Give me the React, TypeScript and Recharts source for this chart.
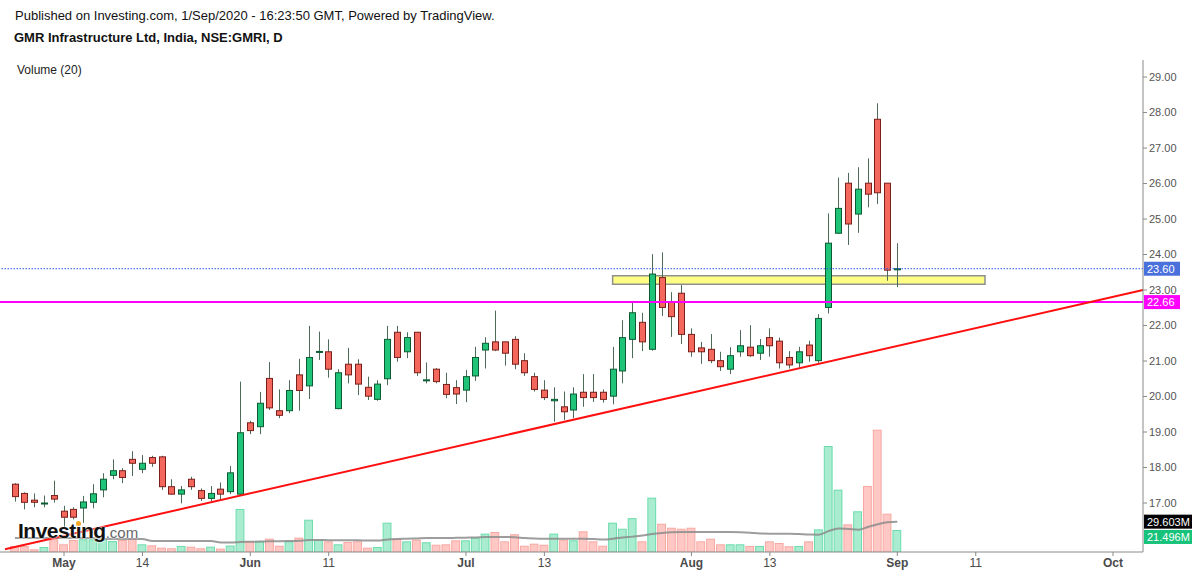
import React from 'react';
import { ComposedChart, Bar, Line, XAxis, YAxis, ReferenceLine, ReferenceArea } from 'recharts';

// daily candles, Apr 24 -> Sep 1 2020 (trading-day index)
const opens = [
  17.53, 17.27, 17.08, 16.99, 17.21, 16.77, 16.82, 16.86, 17.02, 17.37,
  17.78, 17.91, 18.23, 17.95, 18.28, 18.30, 17.46, 17.25, 17.67, 17.35,
  17.13, 17.39, 17.32, 17.25, 19.26, 19.15, 20.51, 19.60, 19.60, 20.61,
  20.30, 21.25, 21.26, 19.66, 20.91, 20.91, 20.26, 19.92, 20.50, 21.81,
  21.26, 21.81, 20.45, 20.77, 20.34, 20.25, 20.18, 20.58, 21.31, 21.54,
  21.54, 21.61, 21.01, 20.56, 20.18, 19.88, 19.71, 19.62, 20.12, 20.12,
  20.12, 20.01, 20.72, 21.61, 22.09, 21.33, 23.35, 22.65, 22.91, 21.75,
  21.37, 21.33, 21.01, 20.77, 21.26, 21.39, 21.22, 21.66, 21.56, 21.10,
  20.95, 21.45, 21.01, 22.51, 24.60, 26.01, 25.14, 26.01, 27.81, 26.01,
  23.57,
];
const highs = [
  17.56, 17.30, 17.27, 17.21, 17.63, 16.92, 16.88, 17.20, 17.53, 17.84,
  18.23, 17.98, 18.46, 18.35, 18.33, 18.33, 17.67, 17.48, 17.74, 17.41,
  17.48, 17.58, 18.04, 20.42, 19.32, 20.13, 20.97, 20.20, 20.46, 21.06,
  21.99, 21.83, 21.61, 20.77, 21.37, 21.05, 20.56, 20.46, 21.99, 21.99,
  21.81, 21.81, 20.96, 20.80, 20.67, 20.46, 20.75, 21.40, 21.67, 22.42,
  21.54, 21.70, 21.22, 20.67, 20.46, 20.26, 20.14, 20.26, 20.63, 20.63,
  20.20, 21.40, 22.15, 22.67, 22.36, 24.01, 24.06, 22.94, 23.14, 21.92,
  21.54, 21.76, 21.26, 21.39, 21.87, 22.01, 21.62, 21.92, 21.66, 21.28,
  21.40, 21.57, 22.32, 25.16, 26.17, 26.30, 26.46, 26.71, 28.26, 26.01,
  24.32,
];
const lows = [
  17.04, 16.82, 16.88, 16.88, 17.01, 16.29, 16.54, 16.44, 16.85, 17.16,
  17.67, 17.56, 17.76, 17.84, 18.02, 17.37, 17.23, 16.99, 17.37, 17.06,
  17.04, 17.08, 17.25, 17.22, 18.94, 18.94, 19.62, 19.39, 19.53, 19.60,
  19.93, 21.03, 20.53, 19.64, 20.37, 20.04, 19.90, 19.88, 20.32, 20.98,
  21.08, 20.58, 20.37, 20.37, 19.95, 19.79, 19.84, 20.44, 20.79, 21.28,
  20.87, 20.77, 20.58, 20.14, 19.90, 19.29, 19.34, 19.39, 19.71, 19.85,
  19.83, 19.78, 20.37, 21.08, 21.28, 21.29, 22.27, 21.68, 21.48, 21.12,
  20.92, 20.94, 20.72, 20.63, 21.12, 21.12, 21.03, 21.12, 20.79, 20.79,
  20.81, 20.98, 20.95, 22.34, 24.58, 24.27, 24.61, 25.33, 25.42, 23.26,
  23.08,
];
const closes = [
  17.18, 17.02, 17.02, 17.00, 17.11, 16.60, 16.60, 17.03, 17.26, 17.67,
  17.91, 17.72, 18.12, 18.12, 18.12, 17.46, 17.25, 17.37, 17.46, 17.13,
  17.27, 17.25, 17.85, 18.98, 19.04, 19.81, 19.68, 19.47, 20.17, 20.17,
  21.10, 21.27, 20.77, 20.67, 20.61, 20.35, 20.01, 20.35, 21.61, 21.10,
  21.66, 20.67, 20.47, 20.42, 20.06, 20.07, 20.56, 21.10, 21.50, 21.31,
  21.22, 20.91, 20.67, 20.20, 19.97, 19.92, 19.57, 20.07, 19.97, 19.97,
  19.92, 20.77, 21.66, 22.36, 21.54, 23.45, 22.51, 22.25, 21.75, 21.26,
  21.26, 21.01, 20.84, 21.15, 21.43, 21.15, 21.43, 21.43, 20.95, 20.89,
  21.26, 21.15, 22.20, 24.32, 25.30, 24.86, 25.84, 25.70, 25.74, 23.56,
  23.60,
];
// volume in millions of shares
const volumes = [
  5.9, 5.9, 2.6, 4.9, 12.4, 7.5, 11.7, 12.4, 12.4, 12.4,
  10.7, 11.7, 13.4, 7.5, 6.5, 4.2, 3.6, 5.9, 5.2, 3.6,
  5.2, 3.3, 6.3, 42.0, 10.4, 10.4, 13.0, 6.1, 10.4, 14.0,
  31.5, 12.0, 10.4, 7.5, 9.8, 10.4, 4.2, 4.9, 28.6, 13.0,
  10.4, 12.0, 9.5, 7.1, 7.5, 11.4, 11.4, 14.0, 17.9, 19.5,
  10.4, 17.3, 6.1, 8.1, 7.1, 17.9, 12.0, 11.4, 20.2, 10.4,
  6.1, 28.6, 22.7, 33.0, 10.4, 53.0, 27.6, 23.7, 22.7, 23.7,
  10.4, 13.0, 7.5, 7.5, 7.5, 5.9, 5.9, 10.4, 8.8, 5.6,
  5.9, 10.4, 22.1, 103.4, 60.8, 27.0, 39.7, 64.4, 119.3, 37.4,
  21.496,
];
// Volume (20) moving average
const volumeMA = [
  13.7, 13.7, 13.7, 13.7, 13.7, 13.7, 13.7, 13.7, 13.7, 12.7,
  12.7, 12.7, 12.7, 12.7, 10.7, 10.7, 10.7, 10.7, 10.7, 10.7,
  10.7, 9.3, 9.3, 9.8, 10.0, 10.2, 10.5, 10.5, 10.7, 11.0,
  11.7, 11.7, 11.5, 11.4, 11.4, 11.4, 11.2, 11.2, 12.2, 12.7,
  12.9, 13.2, 13.6, 13.6, 13.6, 13.8, 14.0, 14.2, 14.6, 14.6,
  14.6, 14.4, 13.6, 13.2, 13.0, 13.0, 13.0, 13.0, 13.0, 12.7,
  12.2, 13.0, 14.2, 15.0, 16.0, 17.5, 18.5, 19.2, 19.5, 19.5,
  19.5, 19.5, 19.5, 19.5, 19.3, 18.8, 18.0, 17.9, 17.9, 17.9,
  17.5, 17.0, 16.9, 20.5, 23.0, 22.5, 21.8, 24.4, 27.0, 29.0,
  29.6,
];

const tickIndex = [5, 13, 24, 32, 46, 54, 69, 77, 90, 98, 112];
const tickLabels = ['May', '14', 'Jun', '11', 'Jul', '13', 'Aug', '13', 'Sep', '11', 'Oct'];
const priceTicks = [17, 18, 19, 20, 21, 22, 23, 24, 25, 26, 27, 28, 29];

const lastPrice = 23.6;
const supportLevel = 22.66;
const trendStart = { x: -1.02, y: 15.7 };
const trendEnd = { x: 115.06, y: 23.0 };
const zoneX = [60.96, 98.94];
const zoneY = [23.16, 23.4];
const volumeMALast = 29.603;
const volumeLast = 21.496;

const xDomain = [-1.53, 115.06];
const priceDomain = [15.62, 29.48];
const volumeDomain = [0, 480];

const data = opens.map((o, i) => ({
  i,
  o,
  h: highs[i],
  l: lows[i],
  c: closes[i],
  v: volumes[i],
  ma: volumeMA[i],
}));

const FONT = '"Liberation Sans", Arial, sans-serif';
const W = 1200;
const H = 575;
const MARGIN = { top: 60, right: 0, bottom: 0, left: 0 };

const Candle = (props: any) => {
  const { x, y, width, height, payload } = props;
  const { o, h, l, c } = payload;
  const top = Math.min(y, y + height);
  const span = Math.abs(height);
  const k = h === l ? 0 : span / (h - l);
  const py = (v: number) => top + (h - v) * k;
  const up = c >= o;
  const cx = Math.round(x + width / 2) + 0.5;
  const bodyTop = py(Math.max(o, c));
  const bodyH = Math.max(1, py(Math.min(o, c)) - bodyTop);
  return (
    <g>
      <line x1={cx} x2={cx} y1={top} y2={top + span} stroke="#4e6b5a" strokeWidth={1} />
      <rect
        x={cx - 3}
        y={bodyTop}
        width={6}
        height={bodyH}
        fill={up ? '#1fc478' : '#f4675d'}
        stroke={up ? '#0c5c33' : '#7a1f1a'}
        strokeWidth={1}
      />
    </g>
  );
};

const VolBar = (props: any) => {
  const { x, y, width, height, payload } = props;
  const up = payload.c >= payload.o;
  return (
    <rect
      x={x + 0.5}
      y={y + 0.5}
      width={width - 1}
      height={Math.max(0, height - 0.5)}
      fill={up ? '#a9ecd0' : '#ffc8c4'}
      stroke={up ? '#6cdcac' : '#f7a8a2'}
      strokeWidth={1}
    />
  );
};

const AxisTag = (props: any) => {
  const { viewBox, text, bg, dy = 0, w = 36 } = props;
  if (!viewBox) return null;
  const x0 = viewBox.x + viewBox.width + 1;
  const yc = viewBox.y + dy;
  return (
    <g>
      <rect x={x0} y={yc - 7} width={w} height={14} fill={bg} />
      <text x={x0 + 3} y={yc + 4} fill="#fff" fontSize={11} fontFamily={FONT}>
        {text}
      </text>
    </g>
  );
};

const XTick = (props: any) => {
  const { x, y, payload } = props;
  const label = tickLabels[tickIndex.indexOf(payload.value)] ?? '';
  const isMonth = /^[A-Za-z]/.test(label);
  return (
    <text
      x={x}
      y={y}
      dy={9}
      textAnchor="middle"
      fontSize={12}
      fontFamily={FONT}
      fill="#4a4a4a"
      fontWeight={isMonth ? 'bold' : 'normal'}
    >
      {label}
    </text>
  );
};

export default function App() {
  return (
    <div
      style={{
        position: 'absolute',
        left: 0,
        top: 0,
        width: W,
        height: H,
        background: '#fff',
        fontFamily: FONT,
        overflow: 'hidden',
      }}
    >
      <div style={{ position: 'absolute', left: 15, top: 8, fontSize: 13, lineHeight: '15px', color: '#111' }}>
        Published on Investing.com, 1/Sep/2020 - 16:23:50 GMT, Powered by TradingView.
      </div>
      <div style={{ position: 'absolute', left: 14, top: 30, fontSize: 13, lineHeight: '15px', fontWeight: 'bold', color: '#111' }}>
        GMR Infrastructure Ltd, India, NSE:GMRI, D
      </div>

      {/* volume pane, drawn underneath */}
      <div style={{ position: 'absolute', left: 0, top: 0 }}>
        <ComposedChart width={W} height={H} data={data} margin={{ top: 60, right: 57, bottom: 23, left: 0 }}>
          <XAxis dataKey="i" type="number" domain={xDomain} allowDataOverflow hide />
          <YAxis yAxisId="vol" domain={volumeDomain} allowDataOverflow hide />
          <Bar yAxisId="vol" dataKey="v" barSize={10} shape={VolBar} isAnimationActive={false} />
          <Line
            yAxisId="vol"
            dataKey="ma"
            type="monotone"
            stroke="#8c8c8c"
            strokeOpacity={0.85}
            strokeWidth={2}
            dot={false}
            isAnimationActive={false}
          />
          <ReferenceLine
            yAxisId="vol"
            y={volumeMALast}
            stroke="none"
            label={<AxisTag text="29.603M" bg="#000" w={48} />}
          />
          <ReferenceLine
            yAxisId="vol"
            y={volumeLast}
            stroke="none"
            label={<AxisTag text="21.496M" bg="#17c27a" w={48} dy={7} />}
          />
        </ComposedChart>
      </div>

      {/* price pane */}
      <div style={{ position: 'absolute', left: 0, top: 0 }}>
        <ComposedChart width={W} height={H} data={data} margin={MARGIN}>
          <XAxis
            dataKey="i"
            type="number"
            domain={xDomain}
            allowDataOverflow
            ticks={tickIndex}
            tick={<XTick />}
            height={23}
            tickSize={4}
            stroke="#8a8a8a"
            tickLine={{ stroke: '#8a8a8a' }}
          />
          <YAxis
            orientation="right"
            domain={priceDomain}
            allowDataOverflow
            ticks={priceTicks}
            width={57}
            tickSize={4}
            stroke="#8a8a8a"
            tick={{ fill: '#555', fontSize: 11, fontFamily: FONT }}
            tickFormatter={(v: number) => v.toFixed(2)}
          />
          <ReferenceArea
            x1={zoneX[0]}
            x2={zoneX[1]}
            y1={zoneY[0]}
            y2={zoneY[1]}
            fill="#ffff85"
            fillOpacity={1}
            stroke="#8f8f8f"
            strokeWidth={1.5}
          />
          <ReferenceLine
            y={supportLevel}
            stroke="#ff00ff"
            strokeWidth={2}
            label={<AxisTag text="22.66" bg="#ff00ff" />}
          />
          <ReferenceLine
            segment={[trendStart, trendEnd]}
            stroke="#ff1010"
            strokeWidth={2}
            ifOverflow="visible"
          />
          <Bar dataKey={(d: any) => [d.l, d.h]} barSize={7} shape={Candle} isAnimationActive={false} />
          <ReferenceLine
            y={lastPrice}
            stroke="#2f55f0"
            strokeWidth={1}
            strokeDasharray="1.5 1.5"
            label={<AxisTag text="23.60" bg="#4a70dc" />}
          />
        </ComposedChart>
      </div>

      <div style={{ position: 'absolute', left: 17, top: 63, fontSize: 12, lineHeight: '14px', color: '#222' }}>
        Volume (20)
      </div>
      <div
        style={{
          position: 'absolute',
          left: 18,
          top: 520,
          lineHeight: '21px',
          whiteSpace: 'nowrap',
          textShadow: '0 0 2px #fff, 0 0 2px #fff',
        }}
      >
        <span style={{ fontSize: 21, fontWeight: 'bold', color: '#111', letterSpacing: -0.5 }}>
          Invest
          <span style={{ position: 'relative' }}>
            i
            <span
              style={{
                position: 'absolute',
                left: 0.5,
                top: 2,
                width: 5,
                height: 5,
                borderRadius: '50%',
                background: '#f5a623',
              }}
            />
          </span>
          ng
        </span>
        <span style={{ fontSize: 15, color: '#666' }}>.com</span>
      </div>
    </div>
  );
}
